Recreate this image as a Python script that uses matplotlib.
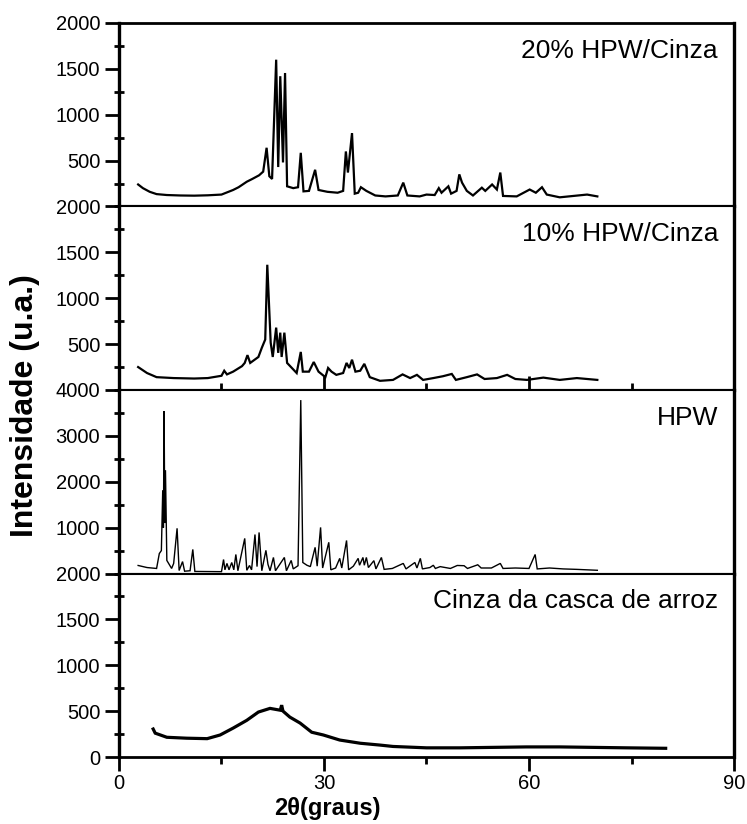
import matplotlib

matplotlib.use("Agg")
import matplotlib.pyplot as plt
from matplotlib.ticker import MultipleLocator

# 2theta / intensity vertices
HPW20_X = [2.8, 3.5, 4.5, 5.5, 7, 9, 11, 13, 15, 16.7, 17.5, 18.7, 19.5, 20.5, 21.1, 21.6, 22.0, 22.4,
           23.0, 23.3, 23.6, 24.0, 24.3, 24.6, 25.5, 26.2, 26.6, 27.0, 27.8, 28.7, 29.2, 30.5, 32, 32.8,
           33.2, 33.5, 34.1, 34.5, 35.0, 35.4, 36.2, 37.5, 39, 40.8, 41.6, 42.2, 44, 45, 46.2, 46.8, 47.2,
           48.2, 48.6, 49.4, 49.8, 50.2, 50.9, 51.8, 53.1, 53.6, 54.6, 55.3, 55.8, 56.2, 58.2, 60.1, 61.0,
           61.9, 62.6, 64.5, 66.5, 68.5, 70.0]
HPW20_Y = [240, 200, 160, 135, 125, 120, 118, 122, 130, 180, 210, 270, 300, 340, 380, 640, 330, 300,
           1600, 430, 1420, 480, 1455, 220, 200, 210, 585, 165, 170, 400, 180, 160, 150, 170,
           600, 370, 800, 140, 150, 210, 170, 120, 110, 120, 260, 120, 110, 130, 125, 200, 150,
           220, 140, 170, 350, 260, 170, 120, 205, 170, 240, 185, 370, 115, 110, 185, 150,
           210, 130, 100, 115, 130, 110]

HPW10_X = [2.8, 4.1, 5.5, 8, 11, 13, 15.0, 15.4, 15.8, 16.7, 18.0, 18.4, 18.8, 19.2, 20.4, 20.9, 21.4,
           21.7, 22.2, 22.5, 23.0, 23.3, 23.6, 23.8, 24.2, 24.6, 26.0, 26.6, 26.9, 27.8, 28.5, 29.2, 30.2,
           30.6, 31.1, 31.8, 32.8, 33.3, 33.7, 34.1, 34.6, 35.3, 35.9, 36.7, 38.2, 40.1, 41.5, 42.6, 43.6,
           44.5, 46, 47.4, 48.7, 49.3, 50.9, 52.4, 53.5, 55.3, 56.8, 58, 59.7, 62.1, 64.5, 67, 70.0]
HPW10_Y = [250, 185, 140, 130, 125, 130, 155, 210, 170, 200, 260, 295, 380, 295, 360, 460, 550,
           1365, 515, 360, 680, 405, 625, 360, 625, 295, 185, 415, 200, 200, 305, 200, 140,
           240, 200, 165, 185, 295, 240, 330, 200, 210, 285, 140, 100, 110, 170, 130, 165,
           110, 130, 150, 175, 110, 140, 170, 120, 130, 165, 120, 110, 135, 110, 130, 110]

HPW_X = [2.8, 4.1, 5.5, 5.9, 6.2, 6.4, 6.5, 6.6, 6.7, 6.8, 7.0, 7.7, 8.0, 8.5, 8.8, 9.3, 9.6, 10.4,
         10.8, 11.1, 15.0, 15.3, 15.5, 15.8, 16.1, 16.5, 16.8, 17.1, 17.4, 18.4, 18.7, 19.1, 19.4, 19.9,
         20.2, 20.5, 20.9, 21.5, 21.8, 22.1, 22.6, 22.9, 24.2, 24.5, 25.2, 25.5, 26.2, 26.6, 26.9, 27.5,
         28.0, 28.7, 29.0, 29.5, 29.8, 30.7, 31.0, 31.7, 32.3, 32.6, 33.3, 33.6, 34.3, 35.0, 35.2, 35.7,
         35.9, 36.2, 36.5, 37.3, 37.6, 38.4, 38.8, 40, 41.6, 42, 43.3, 43.6, 44.1, 44.4, 45.5, 46.0,
         46.3, 47.0, 48.5, 49.5, 50.5, 51.0, 52.5, 53.0, 54.5, 55.8, 56.2, 58, 60, 60.9, 61.2, 63, 65,
         67, 70]
HPW_Y = [175, 130, 110, 435, 500, 1815, 1000, 3540, 1100, 2250, 285, 110, 220, 985, 65, 260, 50, 60,
         525, 45, 40, 305, 80, 220, 80, 240, 80, 415, 60, 765, 70, 175, 80, 850,
         150, 895, 60, 505, 200, 60, 350, 60, 350, 60, 285, 100, 170, 3780, 240, 180,
         150, 570, 160, 1005, 120, 680, 80, 120, 330, 120, 720, 80, 160, 330, 180, 350,
         180, 350, 130, 280, 100, 350, 90, 110, 220, 100, 240, 120, 330, 100, 130, 180,
         110, 150, 110, 175, 170, 110, 190, 120, 120, 220, 110, 120, 110, 415, 100, 120, 100,
         90, 70]

ASH_X = [5.0, 5.3, 7.0, 9.9, 12.9, 14.8, 16.7, 18.7, 20.4, 22.1, 23.6, 23.8, 24.0, 25.0, 26.5, 28.2,
         29.9, 32.3, 35.3, 38.2, 40.1, 45, 49.9, 54.7, 59.6, 64.5, 69.4, 74.3, 80.0]
ASH_Y = [305, 260, 215, 205, 200, 240, 315, 400, 490, 530, 510, 565, 500, 435, 370, 270,
         240, 185, 150, 130, 115, 100, 100, 105, 110, 110, 105, 100, 95]

PANELS = [
    ("20% HPW/Cinza", HPW20_X, HPW20_Y, 2000, [500, 1000, 1500, 2000], 1.6),
    ("10% HPW/Cinza", HPW10_X, HPW10_Y, 2000, [500, 1000, 1500, 2000], 1.6),
    ("HPW", HPW_X, HPW_Y, 4000, [1000, 2000, 3000, 4000], 1.0),
    ("Cinza da casca de arroz", ASH_X, ASH_Y, 2000, [0, 500, 1000, 1500, 2000], 2.3),
]
X_TICKS = [0, 30, 60, 90]


def main():
    plt.rcParams["font.family"] = ["Liberation Sans", "DejaVu Sans"]
    fig, axes = plt.subplots(4, 1, sharex=True, figsize=(7.47, 8.24), dpi=100)
    fig.subplots_adjust(left=0.1593, right=0.9826, top=0.9721, bottom=0.0813, hspace=0)

    for i, (ax, (name, xs, ys, ymax, yticks, lw)) in enumerate(zip(axes, PANELS)):
        ax.plot(xs, ys, color="black", lw=lw, solid_joinstyle="miter")
        ax.set_xlim(0, 90)
        ax.set_ylim(0, ymax)
        ax.set_yticks(yticks)
        ax.yaxis.set_minor_locator(MultipleLocator(ymax / 8))
        ax.tick_params(axis="y", which="major", direction="out", length=10, width=2, labelsize=14.5)
        ax.tick_params(axis="y", which="minor", direction="inout", length=7, width=2)
        ax.text(0.974, 0.85, name, transform=ax.transAxes, ha="right", va="center", fontsize=19)

        for side in ["left", "right"]:
            ax.spines[side].set_linewidth(2.4)
        ax.spines["top"].set_linewidth(2.0 if i == 0 else 1.5)
        ax.spines["bottom"].set_linewidth(2.0 if i == 3 else 1.5)

        ax.set_xticks(X_TICKS)
        ax.xaxis.set_minor_locator(MultipleLocator(15))
        if i == 1:
            ax.tick_params(axis="x", which="major", direction="in", length=10, width=2)
            ax.tick_params(axis="x", which="minor", direction="in", length=5, width=2)
        elif i == 3:
            ax.tick_params(axis="x", which="major", direction="out", length=10, width=2, labelsize=14.5,
                           pad=2)
            ax.tick_params(axis="x", which="minor", direction="out", length=5, width=2)
        else:
            ax.tick_params(axis="x", which="both", length=0)

    fig.text(25 / 747, 1 - 406 / 824, "Intensidade (u.a.)", rotation=90, ha="center", va="center",
             fontsize=23, fontweight="bold")
    fig.text(327 / 747, 1 - 809 / 824, "2θ(graus)", ha="center", va="center",
             fontsize=17, fontweight="bold")

    fig.savefig("out.png", dpi=100)


if __name__ == "__main__":
    main()
